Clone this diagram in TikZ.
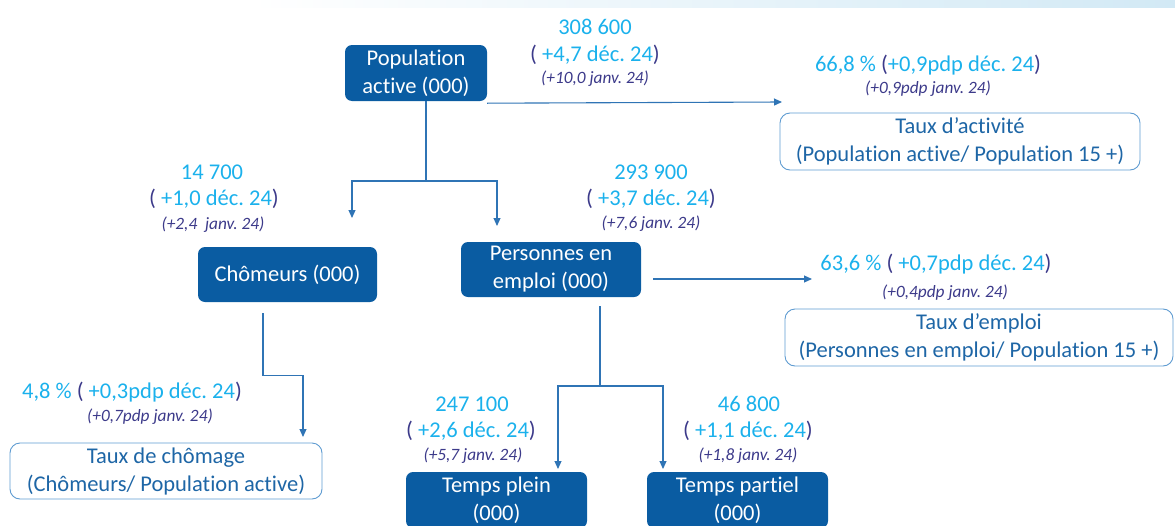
\documentclass[tikz,border=0pt]{standalone}
\usepackage{fontspec}
\setmainfont{Carlito}[Ligatures=NoCommon]
\usetikzlibrary{arrows.meta}
\frenchspacing
\definecolor{boxblue}{HTML}{0A5CA2}
\definecolor{lblue}{HTML}{1BB1EC}
\definecolor{navy}{HTML}{3C3A8A}
\definecolor{otext}{HTML}{1E66A6}
\definecolor{outline}{HTML}{5E9BD1}
\definecolor{lineblue}{HTML}{2F74B5}
\definecolor{band}{HTML}{D2E9F5}
\newcommand{\mainfnt}{\fontsize{22.5}{28}\selectfont}
\newcommand{\smallfnt}{\fontsize{17.3}{20}\selectfont\itshape}
\newcommand{\nv}[1]{\textcolor{navy}{#1}}
\begin{document}
\begin{tikzpicture}[x=1pt,y=-1pt,
  solidbox/.style={rectangle, rounded corners=7pt, fill=boxblue, text=white, font=\mainfnt, align=center, inner sep=0pt},
  outbox/.style={rectangle, rounded corners=10pt, draw=outline, line width=0.9pt, text=otext, font=\mainfnt, align=center, inner sep=0pt},
  big/.style={font=\mainfnt, text=lblue, inner sep=0pt},
  small/.style={font=\smallfnt, text=navy, inner sep=0pt},
  conn/.style={draw=lineblue, line width=1.1pt},
  arr/.style={conn, -{Triangle[length=8pt,width=7pt]}}
]
\clip (0,0) rectangle (1175,525);
\shade[left color=white, right color=band] (250,0) rectangle (1175,7);

% boxes
\node[solidbox, minimum width=142, minimum height=56] (pop) at (416,73) {Population\\active (000)};
\node[outbox, minimum width=360, minimum height=57] (ta) at (960,141.5) {Taux d’activité\\(Population active/ Population 15 +)};
\node[solidbox, minimum width=179, minimum height=55] (cho) at (287.5,274.5) {Chômeurs (000)};
\node[solidbox, minimum width=180, minimum height=55] (emp) at (551,269.5) {Personnes en\\emploi (000)};
\node[outbox, minimum width=388, minimum height=57] (te) at (979,337.5) {Taux d’emploi\\(Personnes en emploi/ Population 15 +)};
\node[outbox, minimum width=312, minimum height=56] (tc) at (166,471) {Taux de chômage\\(Chômeurs/ Population active)};
\node[solidbox, minimum width=181, minimum height=56] (tp) at (496.5,500) {Temps plein\\(000)};
\node[solidbox, minimum width=181, minimum height=56] (tpa) at (737.5,500) {Temps partiel\\(000)};

% labels
\node[big] (l1a) at (595,27) {308 600};
\node[big] (l1b) at (595,55) {\nv{(} +4,7 déc. 24\nv{)}};
\node[small] (l1c) at (595,79) {(+10,0 janv. 24)};

\node[big] (l2a) at (928,65) {66,8 \% \nv{(}+0,9pdp déc. 24\nv{)}};
\node[small] (l2b) at (928,89) {(+0,9pdp janv. 24)};

\node[big] (l3a) at (212,172) {14 700};
\node[big] (l3b) at (214,199) {\nv{(} +1,0 déc. 24\nv{)}};
\node[small] (l3c) at (213,225) {(+2,4\hspace{0.45em}janv. 24)};

\node[big] (l4a) at (651,172) {293 900};
\node[big] (l4b) at (651,199) {\nv{(} +3,7 déc. 24\nv{)}};
\node[small] (l4c) at (651,224) {(+7,6 janv. 24)};

\node[big] (l5a) at (936,264) {63,6 \% \nv{(} +0,7pdp déc. 24\nv{)}};
\node[small] (l5b) at (945,293) {(+0,4pdp janv. 24)};

\node[big] (l6a) at (132,392) {4,8 \% \nv{(} +0,3pdp déc. 24\nv{)}};
\node[small] (l6b) at (150,417) {(+0,7pdp janv. 24)};

\node[big] (l7a) at (472,404) {247 100};
\node[big] (l7b) at (471,431) {\nv{(} +2,6 déc. 24\nv{)}};
\node[small] (l7c) at (473,456) {(+5,7 janv. 24)};

\node[big] (l8a) at (749,404) {46 800};
\node[big] (l8b) at (748,431) {\nv{(} +1,1 déc. 24\nv{)}};
\node[small] (l8c) at (748,456) {(+1,8 janv. 24)};

% connectors
\coordinate (e1) at (782,102);
\draw[arr] ([yshift=-2]pop.south east) -- (e1);

\coordinate (j1) at (426,181);
\coordinate (a1) at (352,218);
\coordinate (a2) at (497,226);
\draw[conn] (pop.south -| j1) -- (j1);
\draw[arr] (j1) -| (a1);
\draw[arr] (j1) -| (a2);

\coordinate (e2) at (812,279);
\draw[arr] ([shift={(12,9.5)}]emp.east) -- (e2);

\coordinate (e3) at (303,437);
\draw[arr] ([shift={(-24.5,11)}]cho.south) -- ++(0,62) -| (e3);

\coordinate (j2) at (600,386);
\coordinate (a3) at (558,469);
\coordinate (a4) at (663,469);
\draw[conn] ([shift={(49,9)}]emp.south) -- (j2);
\draw[arr] (j2) -| (a3);
\draw[arr] (j2) -| (a4);
\end{tikzpicture}
\end{document}
